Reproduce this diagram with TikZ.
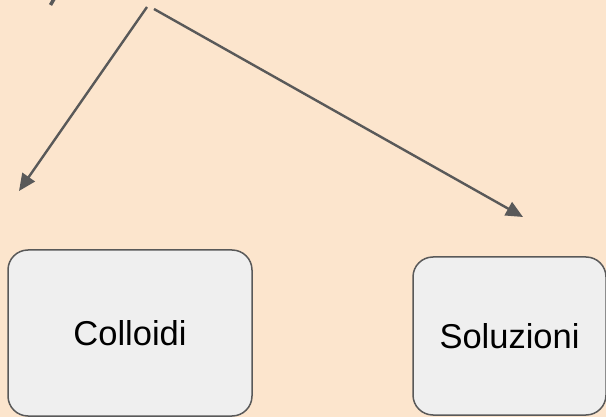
\documentclass[tikz,border=0pt]{standalone}
\usepackage{fontspec}
\setmainfont{Liberation Sans}
\usetikzlibrary{arrows.meta}
\definecolor{bgc}{HTML}{FCE5CD}
\definecolor{linec}{HTML}{595959}
\definecolor{boxc}{HTML}{EFEFEF}
\tikzset{
  catbox/.style={draw=linec, fill=boxc, line width=1.5pt, rounded corners=20pt, inner sep=0pt,
    font=\fontsize{34.5}{40}\selectfont, text=black},
  conn/.style={draw=linec, line width=2.4pt, -{Triangle[length=17pt,width=15pt]}},
}
\begin{document}
\begin{tikzpicture}[x=1pt,y=-1pt]
\fill[bgc] (0,0) rectangle (606,417);
\useasboundingbox (0,0) rectangle (606,417);
\node[catbox, minimum width=244pt, minimum height=166pt] (colloidi) at (130,333) {Colloidi};
\node[catbox, minimum width=193pt, minimum height=158pt] (soluzioni) at (509.5,336) {Soluzioni};
\coordinate (s1) at (147,7);
\coordinate (s2) at (154,9);
\coordinate (t1) at (19,191);
\coordinate (t2) at (523,217);
\draw[conn] (s1) -- (t1);
\draw[conn] (s2) -- (t2);
\draw[linec, line width=3.5pt] (54,-1) -- (50.5,5);
\end{tikzpicture}
\end{document}
